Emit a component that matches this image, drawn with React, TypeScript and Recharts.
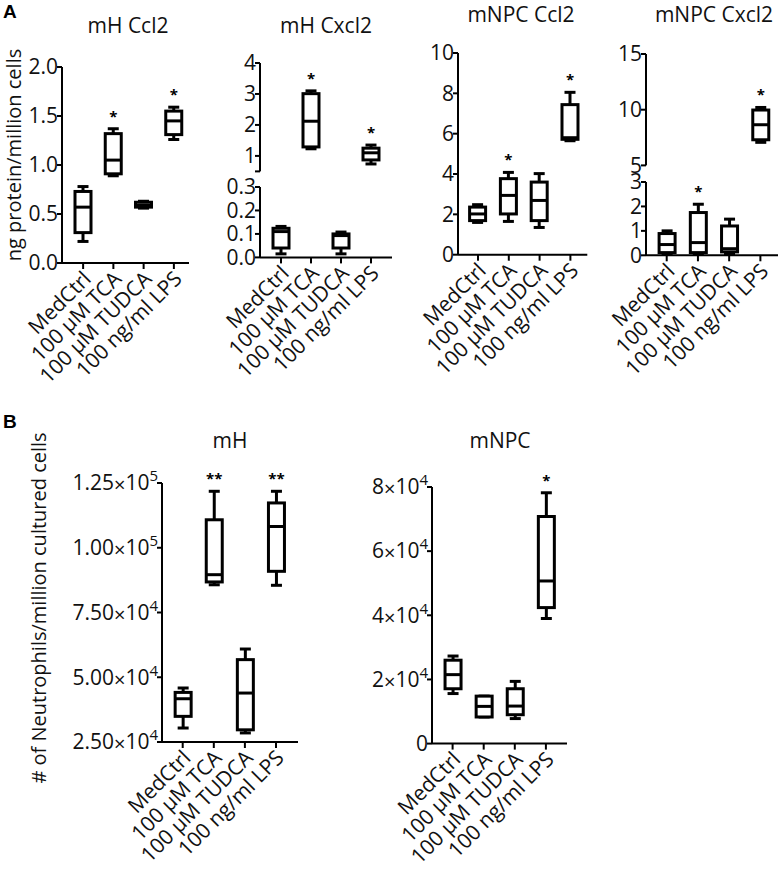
import React from 'react'
import { ComposedChart, Bar, XAxis, YAxis } from 'recharts'

const FONT = '"Open Sans", "DejaVu Sans", sans-serif'
const INK = '#111'
const FS = 21

const categories = ['MedCtrl', '100 µM TCA', '100 µM TUDCA', '100 ng/ml LPS']

// each box: [min, q1, median, q3, max]
const mhCcl2 = [
  [0.22, 0.31, 0.57, 0.73, 0.78],
  [0.89, 0.91, 1.05, 1.32, 1.37],
  [0.56, 0.57, 0.59, 0.62, 0.63],
  [1.26, 1.31, 1.45, 1.55, 1.59],
]
const mhCcl2Sig = ['', '*', '', '*']

const mhCxcl2 = [
  [0.015, 0.04, 0.11, 0.124, 0.132],
  [1.23, 1.29, 2.12, 3.01, 3.1],
  [0.015, 0.04, 0.093, 0.1, 0.108],
  [0.74, 0.87, 1.1, 1.25, 1.35],
]
const mhCxcl2Sig = ['', '*', '', '*']

const npcCcl2 = [
  [1.6, 1.69, 2.02, 2.36, 2.48],
  [1.65, 2.02, 2.94, 3.77, 4.08],
  [1.35, 1.69, 2.69, 3.6, 4.02],
  [5.65, 5.72, 5.8, 7.44, 8.05],
]
const npcCcl2Sig = ['', '*', '', '*']

const npcCxcl2 = [
  [0.04, 0.11, 0.44, 0.89, 1.0],
  [0.04, 0.11, 0.52, 1.75, 2.09],
  [0.07, 0.14, 0.27, 1.2, 1.48],
  [7.07, 7.3, 8.65, 9.97, 10.2],
]
const npcCxcl2Sig = ['', '*', '', '*']

const mhNeut = [
  [30400, 34900, 41700, 44150, 45850],
  [85700, 86800, 89600, 110800, 121800],
  [28500, 29700, 43900, 56800, 60900],
  [85500, 90900, 108200, 117300, 121800],
]
const mhNeutSig = ['', '**', '', '**']

const npcNeut = [
  [15600, 17100, 21500, 26000, 27300],
  [8300, 8300, 11600, 14800, 14800],
  [7800, 9000, 11700, 17100, 19400],
  [39000, 42400, 50700, 70800, 78200],
]
const npcNeutSig = ['', '', '', '*']

const mhCcl2Ticks = [0, 0.5, 1, 1.5, 2]
const mhCxcl2HiTicks = [0.5, 1, 2, 3, 4]
const mhCxcl2LoTicks = [0, 0.1, 0.2, 0.3]
const npcCcl2Ticks = [0, 2, 4, 6, 8, 10]
const npcCxcl2HiTicks = [5, 10, 15]
const npcCxcl2LoTicks = [0, 1, 2, 3]
const mhNeutTicks = [25000, 50000, 75000, 100000, 125000]
const npcNeutTicks = [0, 20000, 40000, 60000, 80000]

type Row = { name: string; range: number[] | null; box: number[] | null; sig: string }

function rows(boxes: number[][], sig: string[], keep?: (b: number[]) => boolean): Row[] {
  return categories.map((name, i) => {
    const b = boxes[i]
    const on = keep ? keep(b) : true
    return { name, range: on ? [b[0], b[4]] : null, box: on ? b : null, sig: on ? sig[i] : '' }
  })
}

function BoxShape(props: any) {
  const { x, y, width, height, payload } = props
  if (!payload || !payload.box || !isFinite(y) || !isFinite(height)) return <g />
  const [mn, q1, md, q3, mx] = payload.box
  const top = Math.min(y, y + height)
  const bot = Math.max(y, y + height)
  const py = (v: number) => bot - ((v - mn) / (mx - mn)) * (bot - top)
  const cx = x + width / 2
  const half = width / 2
  const cap = 5.5
  const s = { stroke: '#000', strokeWidth: 3 }
  return (
    <g>
      <line x1={cx} x2={cx} y1={py(mx)} y2={py(q3)} {...s} />
      <line x1={cx} x2={cx} y1={py(q1)} y2={py(mn)} {...s} />
      <line x1={cx - cap} x2={cx + cap} y1={py(mx)} y2={py(mx)} {...s} />
      <line x1={cx - cap} x2={cx + cap} y1={py(mn)} y2={py(mn)} {...s} />
      <rect x={cx - half} y={py(q3)} width={width} height={Math.max(py(q1) - py(q3), 0.5)} fill="#fff" {...s} />
      <line x1={cx - half} x2={cx + half} y1={py(md)} y2={py(md)} {...s} />
      {payload.sig ? (
        <text x={cx} y={py(mx) - 7} textAnchor="middle" fontSize={15} fontWeight="bold" fontFamily={FONT} fill="#000">
          {payload.sig}
        </text>
      ) : null}
    </g>
  )
}

function XTick(props: any) {
  const { x, y, payload } = props
  const ax = x + 4
  const ay = y + 4
  return (
    <text
      x={ax}
      y={ay}
      transform={`rotate(-45 ${ax} ${ay})`}
      textAnchor="end"
      dy="0.35em"
      fontSize={FS}
      fontFamily={FONT}
      fill={INK}
    >
      {payload.value}
    </text>
  )
}

function YTick(props: any) {
  const { x, y, payload, fmt } = props
  return (
    <text x={x + 1} y={y} dy="0.35em" textAnchor="end" fontSize={FS} fontFamily={FONT} fill={INK}>
      {fmt(payload.value)}
    </text>
  )
}

const fix1 = (v: number) => v.toFixed(1)
const plain = (v: number) => String(v)
const hideHalf = (v: number) => (v === 0.5 ? '' : String(v))

function sci(digits: number) {
  return (v: number) => {
    if (v === 0) return '0'
    const e = Math.floor(Math.log10(v))
    const m = v / Math.pow(10, e)
    return [
      <tspan key="m">{m.toFixed(digits)}</tspan>,
      <tspan key="x" fontSize={20} dy={2}>×</tspan>,
      <tspan key="b" dy={-2}>10</tspan>,
      <tspan key="e" fontSize={15} dy={-9}>{e}</tspan>,
    ]
  }
}

type PanelProps = {
  data: Row[]
  axisX: number
  plotTop: number
  plotBottom: number
  plotRight: number
  domain: [number, number]
  ticks: number[]
  fmt: (v: number) => any
  padL: number
  padR: number
  showX: boolean
  yw?: number
}

function Panel(p: PanelProps) {
  const mt = 30
  const mr = 4
  const mb = p.showX ? 4 : 14
  const yw = p.yw ?? 60
  const xh = p.showX ? 170 : 0
  const W = yw + (p.plotRight - p.axisX) + mr
  const H = mt + (p.plotBottom - p.plotTop) + xh + mb
  const axisStyle = { stroke: '#000', strokeWidth: 2 }
  return (
    <div style={{ position: 'absolute', left: p.axisX - yw, top: p.plotTop - mt }}>
      <ComposedChart width={W} height={H} data={p.data} margin={{ top: mt, right: mr, bottom: mb, left: 0 }}>
        <XAxis
          dataKey="name"
          hide={!p.showX}
          height={xh}
          interval={0}
          padding={{ left: p.padL, right: p.padR }}
          axisLine={axisStyle}
          tickLine={axisStyle}
          tickSize={6}
          tick={<XTick />}
        />
        <YAxis
          type="number"
          width={yw}
          domain={p.domain}
          ticks={p.ticks}
          interval={0}
          axisLine={axisStyle}
          tickLine={axisStyle}
          tickSize={5}
          tickMargin={0}
          tick={<YTick fmt={p.fmt} />}
        />
        <Bar dataKey="range" barSize={16} shape={BoxShape} isAnimationActive={false} />
      </ComposedChart>
    </div>
  )
}

const isHi = (lim: number) => (b: number[]) => b[0] >= lim
const isLo = (lim: number) => (b: number[]) => b[4] <= lim

export default function App() {
  const t = { fontFamily: FONT, fontSize: FS, fill: INK, textAnchor: 'middle' as const }
  const yl = { ...t, fontSize: 20 }
  return (
    <div style={{ position: 'absolute', left: 0, top: 0, width: 782, height: 879, background: '#fff' }}>
      <svg width={782} height={879} style={{ position: 'absolute', left: 0, top: 0 }}>
        <text x={3} y={18} fontFamily="Liberation Sans, Arial, sans-serif" fontWeight="bold" fontSize={19} fill="#000">A</text>
        <text x={3} y={428} fontFamily="Liberation Sans, Arial, sans-serif" fontWeight="bold" fontSize={19} fill="#000">B</text>
        <text x={128} y={33} {...t}>mH Ccl2</text>
        <text x={326} y={33} {...t}>mH Cxcl2</text>
        <text x={521} y={22} {...t}>mNPC Ccl2</text>
        <text x={714} y={22} {...t}>mNPC Cxcl2</text>
        <text x={230} y={448} {...t}>mH</text>
        <text x={500} y={448} {...t}>mNPC</text>
        <text x={13} y={155} {...yl} dominantBaseline="central" transform="rotate(-90 13 155)">ng protein/million cells</text>
        <text x={38} y={608} {...yl} dominantBaseline="central" transform="rotate(-90 38 608)"># of Neutrophils/million cultured cells</text>
      </svg>

      <Panel data={rows(mhCcl2, mhCcl2Sig)} axisX={62} plotTop={67} plotBottom={263} plotRight={189}
        domain={[0, 2]} ticks={mhCcl2Ticks} fmt={fix1} padL={6} padR={0} showX yw={40} />

      <Panel data={rows(mhCxcl2, mhCxcl2Sig, isHi(0.5))} axisX={260} plotTop={63.3} plotBottom={171.7} plotRight={392}
        domain={[0.5, 4]} ticks={mhCxcl2HiTicks} fmt={hideHalf} padL={6} padR={6} showX={false} />
      <Panel data={rows(mhCxcl2, mhCxcl2Sig, isLo(0.3))} axisX={260} plotTop={187.3} plotBottom={257.7} plotRight={392}
        domain={[0, 0.3]} ticks={mhCxcl2LoTicks} fmt={fix1} padL={6} padR={6} showX />

      <Panel data={rows(npcCcl2, npcCcl2Sig)} axisX={457.7} plotTop={53.3} plotBottom={255} plotRight={587}
        domain={[0, 10]} ticks={npcCcl2Ticks} fmt={plain} padL={4.6} padR={1.5} showX />

      <Panel data={rows(npcCxcl2, npcCxcl2Sig, isHi(5))} axisX={646} plotTop={54.3} plotBottom={165.7} plotRight={778}
        domain={[5, 15]} ticks={npcCxcl2HiTicks} fmt={plain} padL={5.1} padR={2} showX={false} />
      <Panel data={rows(npcCxcl2, npcCxcl2Sig, isLo(3))} axisX={646} plotTop={181.7} plotBottom={255} plotRight={778}
        domain={[0, 3]} ticks={npcCxcl2LoTicks} fmt={plain} padL={5.1} padR={2} showX />

      <Panel data={rows(mhNeut, mhNeutSig)} axisX={162} plotTop={483.3} plotBottom={742.3} plotRight={298}
        domain={[25000, 125000]} ticks={mhNeutTicks} fmt={sci(2)} padL={5.15} padR={6.45} showX yw={115} />

      <Panel data={rows(npcNeut, npcNeutSig)} axisX={431.7} plotTop={486.7} plotBottom={743.3} plotRight={566.7}
        domain={[0, 80000]} ticks={npcNeutTicks} fmt={sci(0)} padL={5.05} padR={5.55} showX yw={80} />
    </div>
  )
}
